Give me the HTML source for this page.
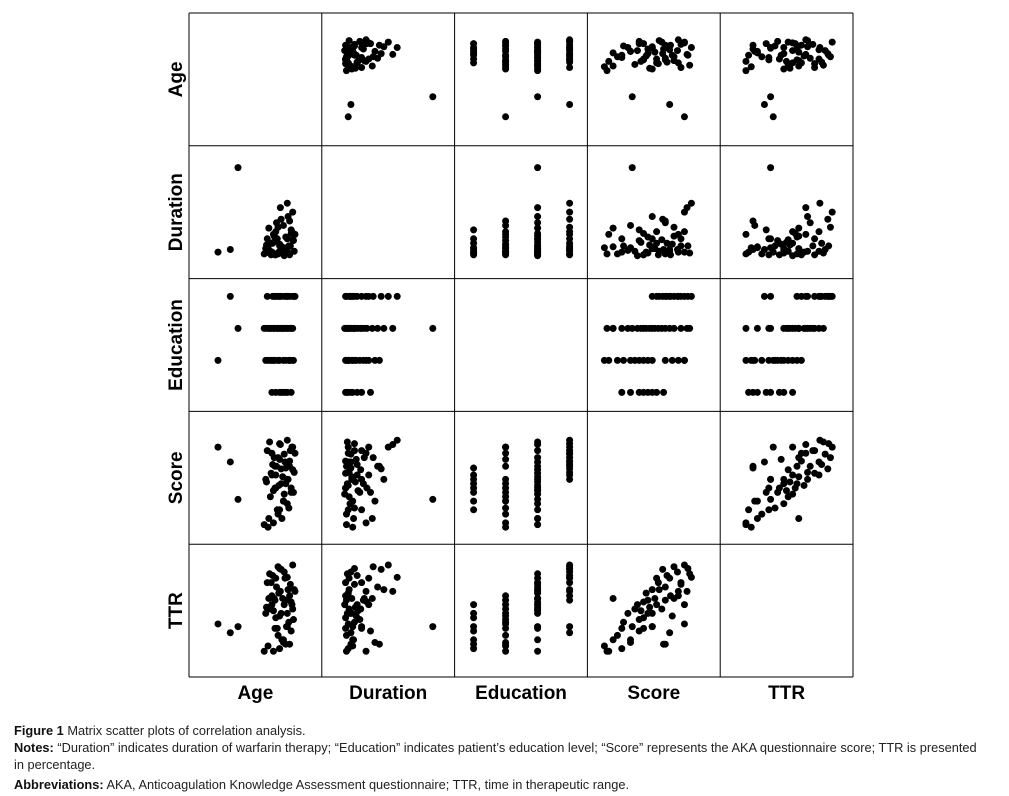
<!DOCTYPE html>
<html><head><meta charset="utf-8"><style>
body{margin:0;background:#fff;width:1009px;height:796px;overflow:hidden;font-family:"Liberation Sans",sans-serif}
.cap{position:absolute;left:14px;font-size:12.8px;color:#222;line-height:17px;white-space:nowrap}
.cap b{color:#111}
</style></head><body>
<svg id="chart" width="1009" height="796" style="position:absolute;left:0;top:0"></svg>
<div class="cap" style="top:722px"><b>Figure 1</b> Matrix scatter plots of correlation analysis.</div>
<div class="cap" style="top:739px"><b>Notes:</b> “Duration” indicates duration of warfarin therapy; “Education” indicates patient’s education level; “Score” represents the AKA questionnaire score; TTR is presented<br>in percentage.</div>
<div class="cap" style="top:776px"><b>Abbreviations:</b> AKA, Anticoagulation Knowledge Assessment questionnaire; TTR, time in therapeutic range.</div>
<script>
const variables=["Age","Duration","Education","Score","TTR"];
// per patient normalized values: age, duration, education level(1-4), score, ttr
const age=[0.00,0.16,0.26,0.80,0.85,0.75,0.90,0.70,0.88,0.95,0.82,0.65,0.72,0.78,0.92,0.85,0.68,0.98,0.74,0.88,0.62,0.93,0.80,0.70,0.96,0.60,0.83,0.77,0.90,0.66,0.86,0.72,0.95,0.79,0.63,0.91,0.84,0.69,0.97,0.76,0.87,0.73,0.94,0.81,0.67,0.89,0.75,0.99,0.82,0.71,0.93,0.78,0.86,0.64,0.97,0.80,0.90,0.74,1.00];
const duration=[0.05,0.08,1.00,0.05,0.10,0.02,0.20,0.15,0.08,0.30,0.04,0.10,0.25,0.03,0.12,0.35,0.06,0.18,0.02,0.22,0.09,0.40,0.14,0.05,0.28,0.03,0.11,0.20,0.07,0.32,0.01,0.16,0.26,0.05,0.13,0.45,0.09,0.02,0.19,0.38,0.06,0.23,0.12,0.55,0.04,0.10,0.28,0.06,0.42,0.15,0.02,0.33,0.08,0.20,0.50,0.12,0.60,0.03,0.25];
const education=[2,4,3,1,1,1,1,1,1,1,1,2,2,2,2,2,2,2,2,2,2,2,2,2,2,3,3,3,3,3,3,3,3,3,3,3,3,3,3,3,3,3,3,3,3,4,4,4,4,4,4,4,4,4,4,4,4,4,4];
const score=[0.92,0.75,0.32,0.20,0.30,0.45,0.55,0.60,0.68,0.40,0.50,0.00,0.05,0.15,0.22,0.30,0.35,0.40,0.45,0.50,0.55,0.70,0.78,0.85,0.92,0.03,0.10,0.20,0.27,0.10,0.38,0.42,0.45,0.48,0.52,0.55,0.58,0.62,0.66,0.70,0.75,0.80,0.88,0.95,0.98,0.55,0.60,0.63,0.67,0.72,0.76,0.80,0.84,0.88,0.92,0.96,1.00,0.70,0.85];
const ttr=[0.33,0.23,0.30,0.05,0.15,0.40,0.30,0.55,0.10,0.25,0.45,0.08,0.02,0.20,0.35,0.12,0.50,0.38,0.28,0.60,0.45,0.10,0.42,0.65,0.55,0.02,0.15,0.28,0.45,0.62,0.55,0.48,0.58,0.68,0.52,0.72,0.62,0.80,0.50,0.75,0.85,0.62,0.78,0.70,0.90,0.30,0.85,0.72,0.95,0.88,0.65,0.98,0.92,0.80,1.00,0.96,0.86,0.60,0.70];
const cols=[age,duration,education.map(e=>(e-1)/3),score,ttr];
const lo=[29,22,19,17,24], hi=[106,111,115,104,112];
const X0=189,Y0=13,S=132.8;
const svg=document.getElementById('chart');
const NS='http://www.w3.org/2000/svg';
function px(v,i){return lo[i]+v*(hi[i]-lo[i]);}
for(let r=0;r<5;r++){for(let c=0;c<5;c++){
  const g=document.createElementNS(NS,'g');
  
  
  svg.appendChild(g);
  if(r===c)continue;
  const n=cols[c].length;
  for(let k=0;k<n;k++){
    const d=document.createElementNS(NS,'circle');
    d.setAttribute('cx',X0+c*S+px(cols[c][k],c));
    d.setAttribute('cy',Y0+r*S+S-px(cols[r][k],r));
    d.setAttribute('r',3.5);d.setAttribute('fill','#000');
    
    
    g.appendChild(d);
  }
}}
for(let i=0;i<=5;i++){
  const v=document.createElementNS(NS,'line');
  v.setAttribute('x1',X0+i*S);v.setAttribute('x2',X0+i*S);v.setAttribute('y1',Y0);v.setAttribute('y2',Y0+5*S);
  v.setAttribute('stroke','#000');v.setAttribute('stroke-width',1);
  
  
  svg.appendChild(v);
  const h=document.createElementNS(NS,'line');
  h.setAttribute('y1',Y0+i*S);h.setAttribute('y2',Y0+i*S);h.setAttribute('x1',X0);h.setAttribute('x2',X0+5*S);
  h.setAttribute('stroke','#000');h.setAttribute('stroke-width',1);
  
  
  svg.appendChild(h);
}
for(let i=0;i<5;i++){
  const t=document.createElementNS(NS,'text');
  t.textContent=variables[i];
  t.setAttribute('x',X0+i*S+S/2);t.setAttribute('y',699);
  t.setAttribute('text-anchor','middle');t.setAttribute('font-size','19');t.setAttribute('font-weight','bold');
  t.setAttribute('font-family','Liberation Sans, sans-serif');
  
  
  svg.appendChild(t);
  const y=Y0+i*S+S/2;
  const u=document.createElementNS(NS,'text');
  u.textContent=variables[i];
  u.setAttribute('x',182);u.setAttribute('y',y);
  u.setAttribute('transform','rotate(-90 182 '+y+')');
  u.setAttribute('text-anchor','middle');u.setAttribute('font-size','19');u.setAttribute('font-weight','bold');
  u.setAttribute('font-family','Liberation Sans, sans-serif');
  
  
  svg.appendChild(u);
}
</script>
</body></html>
